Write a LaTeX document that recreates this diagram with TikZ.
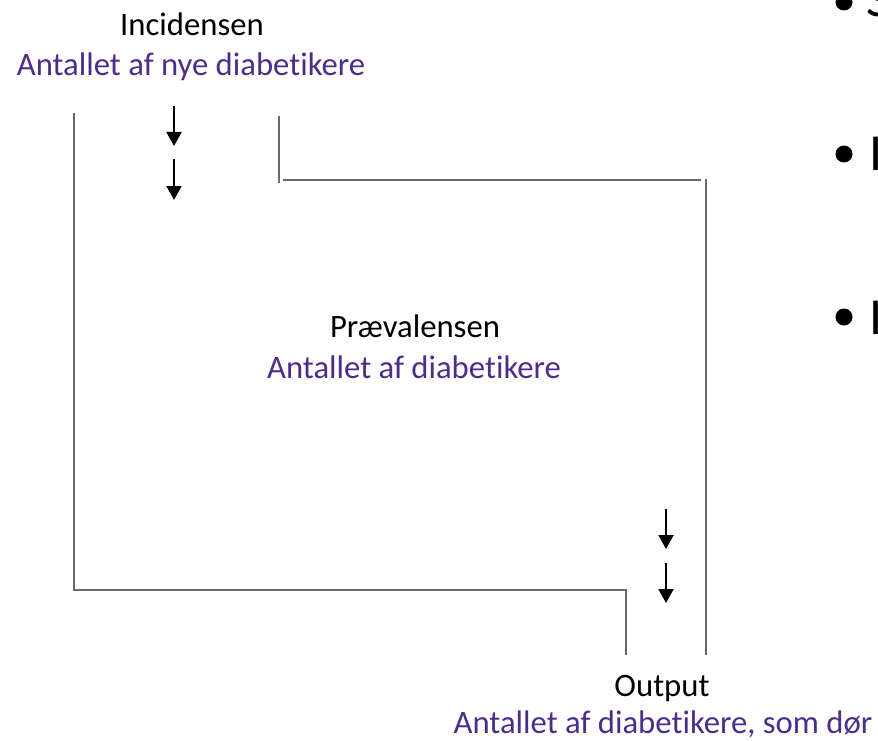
\documentclass[tikz,border=0pt]{standalone}
\usepackage{fontspec}
\setmainfont{Carlito}[Ligatures=NoCommon]
\usetikzlibrary{arrows.meta}

\definecolor{lilla}{RGB}{78,44,138}
\definecolor{streg}{RGB}{105,105,105}
\tikzset{
  kant/.style={draw=streg, line width=2pt},
  pil/.style={-{Triangle[width=15pt,length=14pt]}, line width=2pt},
  tekst/.style={font=\fontsize{32.7}{39}\selectfont, inner sep=0pt, anchor=base},
  lillatekst/.style={tekst, text=lilla},
  punkt/.style={font=\fontsize{52}{62}\selectfont, inner sep=0pt, anchor=base west}
}

\begin{document}
\begin{tikzpicture}[x=1pt,y=-1pt]
                            \useasboundingbox (0,0) rectangle (878,741);
                            \clip (0,0) rectangle (878,741);
                            \draw[kant] (74,113) -- (74,590) -- (626,590) -- (626,655);
                            \draw[kant] (279,116) -- (279,183);
                            \draw[kant] (283,180) -- (701,180);
                            \draw[kant] (706,179) -- (706,655);
                            \draw[pil] (174,106) -- (174,146);
                            \draw[pil] (174,159) -- (174,200);
                            \draw[pil] (666,509) -- (666,549);
                            \draw[pil] (666,563) -- (666,603);
                            \node[tekst] (ind) at (192,36) {Incidensen};
                            \node[lillatekst] (indtal) at (191,76) {Antallet af nye diabetikere};
                            \node[tekst] (praev) at (415,337) {Prævalensen};
                            \node[lillatekst] (praevtal) at (414,378) {Antallet af diabetikere};
                            \node[tekst] (ud) at (662,696) {Output};
                            \node[lillatekst] (udtal) at (663,733) {Antallet af diabetikere, som dør};
                            % punkter fra diasset, skaaret af i kanten
                            \fill (844,2) circle (8.5);
                            \fill (844,154) circle (8.5);
                            \fill (844,317) circle (8.5);
                            \node[punkt] (s1) at (866,17) {S};
                            \node[punkt] (s2) at (869,171) {I};
                            \node[punkt] (s3) at (869,334) {I};
                        \end{tikzpicture}
\end{document}
